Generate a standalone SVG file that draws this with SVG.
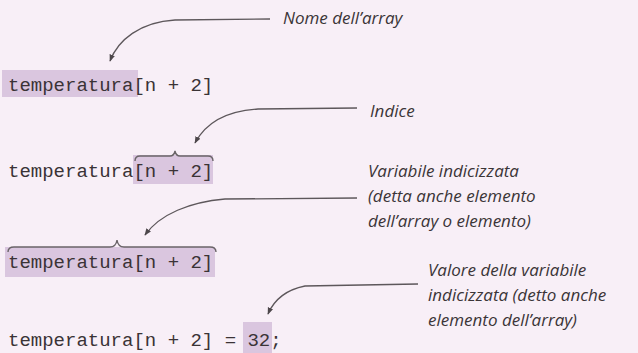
<svg xmlns="http://www.w3.org/2000/svg" width="638" height="353" viewBox="0 0 638 353">
<style>
.code{font-family:"Liberation Mono","Courier New",monospace;font-size:19px;fill:#3a3336;}
.lbl{font-family:"Open Sans","Liberation Sans",sans-serif;font-style:italic;font-size:17px;fill:#3b3538;}
.hl{fill:#dac6df;}
.conn{fill:none;stroke:#5d575b;stroke-width:1.3;}
.brace{fill:none;stroke:#6a6468;stroke-width:1.4;}
</style>
<defs>
<marker id="ah" viewBox="0 0 10 10" refX="9" refY="5" markerWidth="7" markerHeight="7" markerUnits="userSpaceOnUse" orient="auto">
<path d="M0,1 L10,5 L0,9 Z" fill="#4d474b"/>
</marker>
</defs>
<rect width="638" height="353" fill="#f8eff7"/>
<g id="line1">
<rect class="hl" x="2" y="70" width="136" height="27"/>
<text class="code" x="8" y="91">temperatura[n + 2]</text>
</g>
<g id="line2">
<rect class="hl" x="133" y="155" width="80" height="29"/>
<path class="brace" d="M135,161 Q135,156 140,156 L170,156 Q174,156 175,151 Q176,156 180,156 L208,156 Q213,156 213,161"/>
<text class="code" x="8" y="177">temperatura[n + 2]</text>
</g>
<g id="line3">
<rect class="hl" x="5" y="247" width="210" height="30"/>
<path class="brace" d="M8,252 Q8,247 14,247 L110,247 Q116,247 117,240 Q118,247 124,247 L210,247 Q216,247 216,252"/>
<text class="code" x="8" y="268">temperatura[n + 2]</text>
</g>
<g id="line4">
<rect class="hl" x="243" y="322" width="29" height="31"/>
<text class="code" x="8" y="346">temperatura[n + 2] = 32;</text>
</g>
<g id="label-nome"><text class="lbl" x="283" y="24">Nome dell’array</text></g>
<g id="label-indice"><text class="lbl" x="370" y="117">Indice</text></g>
<g id="label-variabile">
<text class="lbl" x="368" y="177">Variabile indicizzata</text>
<text class="lbl" x="368" y="202">(detta anche elemento</text>
<text class="lbl" x="368" y="227">dell’array o elemento)</text>
</g>
<g id="label-valore">
<text class="lbl" x="428" y="276">Valore della variabile</text>
<text class="lbl" x="428" y="301">indicizzata (detto anche</text>
<text class="lbl" x="428" y="326">elemento dell’array)</text>
</g>
<g id="connectors">
<path class="conn" marker-end="url(#ah)" d="M270,19 L175,20 C140,22 118,40 110,61"/>
<path class="conn" marker-end="url(#ah)" d="M357,108 L258,109 C225,111 205,124 195,143"/>
<path class="conn" marker-end="url(#ah)" d="M357,198 L225,199 C190,202 160,214 145,235"/>
<path class="conn" marker-end="url(#ah)" d="M418,284 L305,286 C285,290 274,300 268,314"/>
</g>
</svg>
